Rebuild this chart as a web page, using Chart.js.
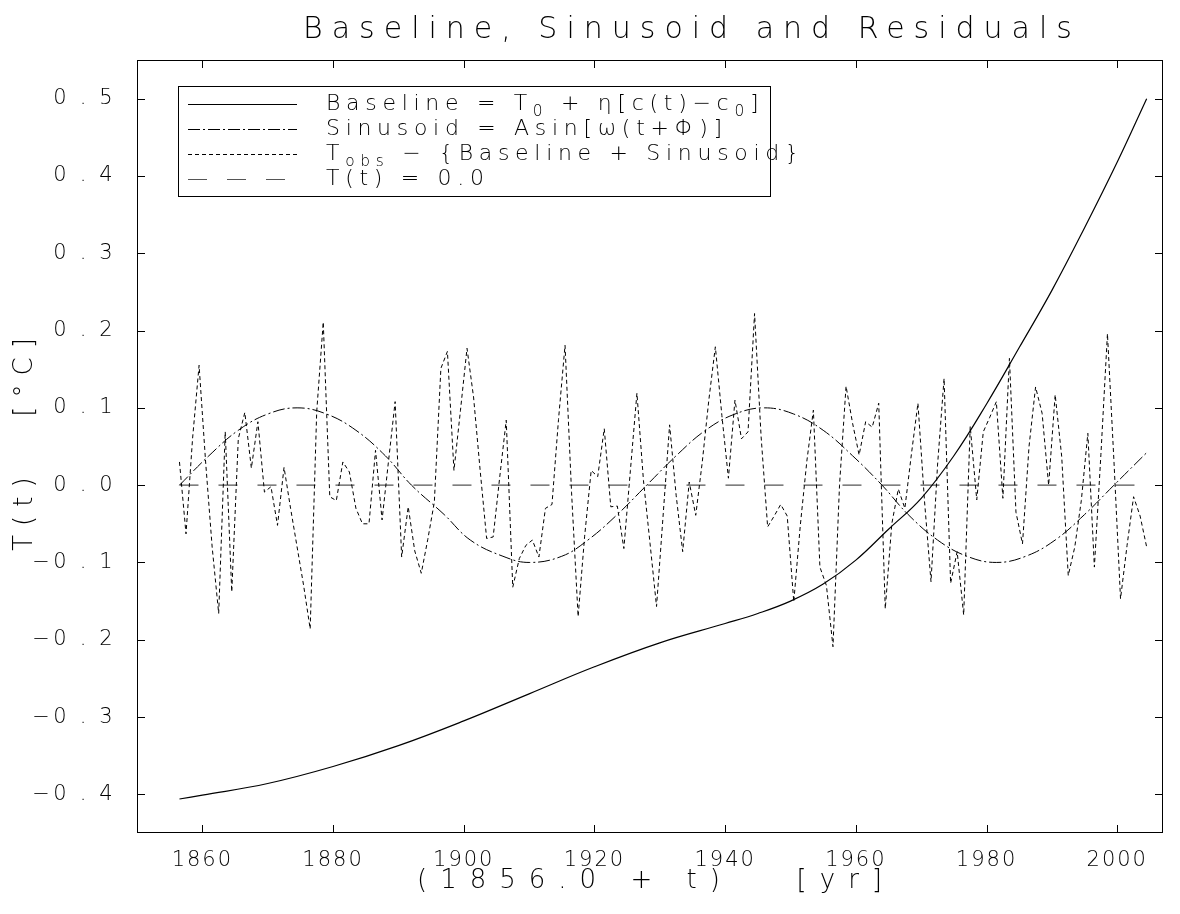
<!DOCTYPE html>
<html>
<head>
<meta charset="utf-8">
<script src="https://cdn.jsdelivr.net/npm/chart.js@4.4.1/dist/chart.umd.min.js"></script>
<style>
  html, body { margin: 0; padding: 0; background: #fff; }
</style>
</head>
<body>
<canvas id="chart" width="1180" height="914"></canvas>
<script>
// residuals, one value per year, first point at 1856.5
const residStart = 1856.5;
const residuals = [
  0.030, -0.063, 0.060, 0.155, 0.030, -0.080, -0.166, 0.069, -0.138, 0.060,   // 1856.5-1865.5
  0.094, 0.022, 0.082, -0.009, -0.002, -0.052, 0.023, -0.030, -0.080, -0.130, // 1866.5-1875.5
  -0.186, 0.095, 0.211, -0.015, -0.020, 0.030, 0.017, -0.030, -0.050, -0.050, // 1876.5-1885.5
  0.045, -0.045, 0.032, 0.108, -0.093, -0.028, -0.085, -0.114, -0.070, -0.022, // 1886.5-1895.5
  0.151, 0.173, 0.019, 0.097, 0.177, 0.114, 0.020, -0.069, -0.067, 0.010,     // 1896.5-1905.5
  0.084, -0.132, -0.095, -0.078, -0.071, -0.093, -0.030, -0.025, 0.085, 0.181, // 1906.5-1915.5
  -0.010, -0.170, -0.066, 0.019, 0.011, 0.073, -0.028, -0.027, -0.082, 0.019, // 1916.5-1925.5
  0.119, 0.006, -0.075, -0.157, -0.040, 0.078, -0.013, -0.086, 0.004, -0.039, // 1926.5-1935.5
  0.030, 0.110, 0.179, 0.090, 0.009, 0.110, 0.060, 0.069, 0.222, 0.063,       // 1936.5-1945.5
  -0.054, -0.040, -0.025, -0.040, -0.151, -0.052, 0.031, 0.097, -0.106, -0.130, // 1946.5-1955.5
  -0.209, 0.000, 0.128, 0.080, 0.039, 0.082, 0.075, 0.106, -0.160, -0.050,    // 1956.5-1965.5
  -0.005, -0.030, 0.040, 0.106, -0.020, -0.125, 0.026, 0.138, -0.127, -0.086, // 1966.5-1975.5
  -0.168, 0.076, -0.019, 0.069, 0.088, 0.108, -0.017, 0.164, -0.035, -0.076,  // 1976.5-1985.5
  0.050, 0.127, 0.093, 0.000, 0.117, 0.037, -0.117, -0.080, -0.020, 0.067,    // 1986.5-1995.5
  -0.106, 0.040, 0.196, 0.030, -0.147, -0.078, -0.015, -0.040, -0.080         // 1996.5-2004.5
];

const baseYears = [1856.5, 1860, 1870, 1880, 1890, 1900, 1910, 1920, 1930, 1940, 1945, 1950,
                   1955, 1960, 1965, 1970, 1975, 1980, 1985, 1990, 1995, 2000, 2004.5];
const baseVals  = [-0.406, -0.401, -0.386, -0.364, -0.337, -0.305, -0.270, -0.235, -0.204, -0.179, -0.166, -0.150,
                   -0.128, -0.097, -0.057, -0.017, 0.038, 0.105, 0.178, 0.252, 0.333, 0.418, 0.500];

const sinYears = [1856.5, 1861, 1865.5, 1870, 1874.5, 1879, 1883.5, 1888, 1892, 1897, 1901, 1906,
                  1910, 1915, 1919, 1923.5, 1928, 1932.5, 1937, 1941.5, 1946, 1950.5, 1955, 1959.5,
                  1964, 1968, 1972.5, 1977, 1981.5, 1986, 1990.5, 1995, 1999.5, 2004.5];
const sinVals  = [0, 0.038, 0.071, 0.092, 0.100, 0.092, 0.071, 0.038, 0, -0.038, -0.071, -0.092,
                  -0.100, -0.092, -0.071, -0.038, 0, 0.038, 0.071, 0.092, 0.100, 0.092, 0.071, 0.038,
                  0, -0.038, -0.071, -0.092, -0.100, -0.092, -0.071, -0.038, 0, 0.042];

const zeroYears = [1856.5, 2004.5];
const zeroVals = [0, 0];

const xTicks = [1860, 1880, 1900, 1920, 1940, 1960, 1980, 2000];
const yTicks = [-0.4, -0.3, -0.2, -0.1, 0.0, 0.1, 0.2, 0.3, 0.4, 0.5];

const FONT = '"DejaVu Sans", sans-serif';

function pts(xs, ys) {
  return ys.map((y, i) => ({ x: xs[i], y: y }));
}

function fmtY(v) {
  const s = Math.abs(v).toFixed(1);
  return v < -1e-9 ? '\u2212' + s : s;
}

// draws a run of text pieces, some of them subscripts
function drawRich(ctx, parts, x, y, size) {
  let cx = x;
  parts.forEach(p => {
    const sz = p.sub ? size * 0.7 : size;
    ctx.font = '300 ' + sz + 'px ' + FONT;
    ctx.fillText(p.t, cx, p.sub ? y + size * 0.35 : y);
    cx += ctx.measureText(p.t).width;
  });
}

// y tick labels are drawn glyph by glyph, the period gets a wide cell like the plot font
function drawYLabel(ctx, txt, right, y) {
  let cx = right - 6;
  for (let i = txt.length - 1; i >= 0; i--) {
    ctx.fillText(txt[i], cx, y);
    const prev = txt[i - 1];
    if (prev === undefined) break;
    if (txt[i] === '.' || prev === '.') cx -= 23;
    else if (prev === '\u2212') cx -= 19;
    else cx -= 16;
  }
}

const legendRows = [
  { dash: [], parts: [{ t: 'Baseline = T' }, { t: '0', sub: true }, { t: ' + \u03b7[c(t)\u2212c' }, { t: '0', sub: true }, { t: ']' }] },
  { dash: [12, 3, 2, 3], parts: [{ t: 'Sinusoid = Asin[\u03c9(t+\u03a6)]' }] },
  { dash: [4, 3], parts: [{ t: 'T' }, { t: 'obs', sub: true }, { t: ' \u2212 {Baseline + Sinusoid}' }] },
  { dash: [19, 20], color: '#555', parts: [{ t: 'T(t) = 0.0' }] }
];

const framePlugin = {
  id: 'frame',
  beforeLayout(chart) { chart.ctx.letterSpacing = '2px'; },
  beforeDraw(chart) { chart.ctx.letterSpacing = '2px'; },
  afterDraw(chart) {
    const ctx = chart.ctx;
    const a = chart.chartArea;
    const xs = chart.scales.x, ys = chart.scales.y;
    ctx.save();
    ctx.strokeStyle = '#000';
    ctx.lineWidth = 1;
    ctx.setLineDash([]);
    ctx.strokeRect(a.left + 0.5, a.top + 0.5, a.right - a.left - 1, a.bottom - a.top - 1);

    // inward tick marks on all four sides
    ctx.beginPath();
    xTicks.forEach(v => {
      const px = Math.round(xs.getPixelForValue(v)) + 0.5;
      ctx.moveTo(px, a.bottom); ctx.lineTo(px, a.bottom - 8);
      ctx.moveTo(px, a.top); ctx.lineTo(px, a.top + 8);
    });
    yTicks.forEach(v => {
      const py = Math.round(ys.getPixelForValue(v)) + 0.5;
      ctx.moveTo(a.left, py); ctx.lineTo(a.left + 8, py);
      ctx.moveTo(a.right, py); ctx.lineTo(a.right - 8, py);
    });
    ctx.stroke();

    ctx.fillStyle = '#000';
    ctx.textBaseline = 'middle';

    // y tick labels
    ctx.letterSpacing = '0px';
    ctx.textAlign = 'center';
    ctx.font = '300 21px ' + FONT;
    yTicks.forEach(v => drawYLabel(ctx, fmtY(v), 112, ys.getPixelForValue(v)));

    // title
    ctx.letterSpacing = '9px';
    ctx.font = '300 30px ' + FONT;
    ctx.fillText('Baseline, Sinusoid and Residuals', 692, 30);

    // axis titles
    ctx.letterSpacing = '13px';
    ctx.font = '300 26px ' + FONT;
    ctx.fillText('(1856.0 + t)   [yr]', 656, 881);
    ctx.letterSpacing = '9px';
    ctx.save();
    ctx.translate(25, 440);
    ctx.rotate(-Math.PI / 2);
    ctx.fillText('T(t)   [\u00b0C]', 0, 0);
    ctx.restore();

    // legend
    ctx.strokeRect(178.5, 86.5, 592, 110);
    ctx.textAlign = 'left';
    ctx.letterSpacing = '5.7px';
    legendRows.forEach((r, i) => {
      const y = 104 + i * 25;
      ctx.beginPath();
      ctx.setLineDash(r.dash);
      ctx.strokeStyle = r.color || '#000';
      ctx.moveTo(188, y + 0.5); ctx.lineTo(297, y + 0.5);
      ctx.stroke();
      ctx.setLineDash([]);
      drawRich(ctx, r.parts, 326, y, 22);
    });
    ctx.restore();
  }
};

new Chart(document.getElementById('chart'), {
  type: 'line',
  data: {
    datasets: [
      { label: 'Baseline', data: pts(baseYears, baseVals), borderColor: '#000', borderWidth: 1.2, tension: 0.4 },
      { label: 'Sinusoid', data: pts(sinYears, sinVals), borderColor: '#000', borderWidth: 1, borderDash: [12, 3, 2, 3], tension: 0.4 },
      { label: 'Residuals', data: residuals.map((v, i) => ({ x: residStart + i, y: v })), borderColor: '#000', borderWidth: 1, borderDash: [4, 3], tension: 0 },
      { label: 'Zero', data: pts(zeroYears, zeroVals), borderColor: '#555', borderWidth: 1.3, borderDash: [19, 20] }
    ]
  },
  options: {
    responsive: false,
    animation: false,
    layout: { padding: { top: 60, right: 17, left: 0, bottom: 0 } },
    elements: { point: { radius: 0 } },
    plugins: {
      legend: { display: false },
      title: { display: false },
      tooltip: { enabled: false }
    },
    scales: {
      x: {
        type: 'linear',
        min: 1850,
        max: 2007,
        grid: { display: false },
        border: { display: false },
        afterBuildTicks: s => { s.ticks = xTicks.map(v => ({ value: v })); },
        afterFit: s => { s.height = 81; },
        ticks: {
          color: '#000',
          padding: 7,
          maxRotation: 0,
          font: { family: FONT, size: 21, weight: 300 },
          callback: v => String(v)
        }
      },
      y: {
        type: 'linear',
        min: -0.45,
        max: 0.55,
        grid: { display: false },
        border: { display: false },
        afterBuildTicks: s => { s.ticks = yTicks.map(v => ({ value: v })); },
        afterFit: s => { s.width = 137; },
        ticks: { display: false }
      }
    }
  },
  plugins: [framePlugin]
});
</script>
</body>
</html>
